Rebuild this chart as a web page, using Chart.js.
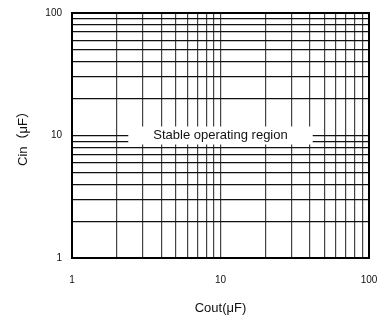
<!DOCTYPE html>
<html>
<head>
<meta charset="utf-8">
<script src="https://cdn.jsdelivr.net/npm/chart.js@4/dist/chart.umd.min.js"></script>
<style>
    html, body { margin: 0; padding: 0; background: #fff; }
    #wrap { width: 382px; height: 320px; }
</style>
</head>
<body>
<div id="wrap"><canvas id="chart" width="382" height="320"></canvas></div>
<script>
// grid / tick values (log axes)
const xTicks = [1, 2, 3, 4, 5, 6, 7, 8, 9, 10, 20, 30, 40, 50, 60, 70, 80, 90, 100];
const yTicks = [1, 2, 3, 4, 5, 6, 7, 8, 9, 10, 20, 30, 40, 50, 60, 70, 80, 90, 100];
const labeledTicks = [1, 10, 100];
const regionLabel = 'Stable operating region';
const regionPoint = [{ x: 10, y: 10 }];

const fontFamily = '"Liberation Sans", Arial, "Noto Sans CJK JP", sans-serif';

// 外枠とラベルの白抜き
const framePlugin = {
    id: 'frame',
    afterDatasetsDraw(chart) {
        const ctx = chart.ctx;
        const a = chart.chartArea;
        const px = chart.scales.x.getPixelForValue(regionPoint[0].x);
        const py = chart.scales.y.getPixelForValue(regionPoint[0].y);
        ctx.save();
        ctx.font = '13px ' + fontFamily;
        const w = ctx.measureText(regionLabel).width;
        ctx.fillStyle = '#fff';
        ctx.fillRect(px - w / 2 - 25, py - 9, w + 50, 18);
        ctx.fillStyle = '#111';
        ctx.textAlign = 'center';
        ctx.textBaseline = 'middle';
        ctx.fillText(regionLabel, px, py);
        ctx.strokeStyle = '#000';
        ctx.lineWidth = 2;
        ctx.strokeRect(a.left, a.top, a.right - a.left, a.bottom - a.top);
        ctx.restore();
    }
};

const tickLabel = (value) => labeledTicks.includes(value) ? String(value) : '';

new Chart(document.getElementById('chart').getContext('2d'), {
    type: 'scatter',
    data: {
        datasets: [{
            data: regionPoint,
            pointRadius: 0,
            showLine: false
        }]
    },
    options: {
        responsive: false,
        animation: false,
        layout: { padding: { left: 0, right: 13, top: 13, bottom: 0 } },
        plugins: { legend: { display: false }, tooltip: { enabled: false } },
        scales: {
            x: {
                type: 'logarithmic',
                min: 1,
                max: 100,
                afterBuildTicks: (scale) => { scale.ticks = xTicks.map(v => ({ value: v })); },
                afterFit: (scale) => {
                    scale.height = 62;
                    scale.paddingLeft = 0;
                    scale.paddingRight = 0;
                },
                grid: { color: '#444', lineWidth: 1.2, drawTicks: false },
                border: { display: false },
                ticks: {
                    autoSkip: false,
                    maxRotation: 0,
                    padding: 16,
                    color: '#111',
                    font: { family: fontFamily, size: 10 },
                    callback: tickLabel
                },
                title: {
                    display: true,
                    text: 'Cout(μF)',
                    color: '#111',
                    font: { family: fontFamily, size: 13 },
                    padding: { top: 0, bottom: 4 }
                }
            },
            y: {
                type: 'logarithmic',
                min: 1,
                max: 100,
                afterBuildTicks: (scale) => { scale.ticks = yTicks.map(v => ({ value: v })); },
                afterFit: (scale) => {
                    scale.width = 72;
                    scale.paddingTop = 0;
                    scale.paddingBottom = 0;
                },
                grid: { color: '#111', lineWidth: 1.2, drawTicks: false },
                border: { display: false },
                ticks: {
                    autoSkip: false,
                    padding: 10,
                    color: '#111',
                    font: { family: fontFamily, size: 10 },
                    callback: tickLabel
                },
                title: {
                    display: true,
                    text: 'Cin（μF）',
                    color: '#111',
                    font: { family: fontFamily, size: 13 },
                    padding: { top: 16, bottom: 0 }
                }
            }
        }
    },
    plugins: [framePlugin]
});
</script>
</body>
</html>
